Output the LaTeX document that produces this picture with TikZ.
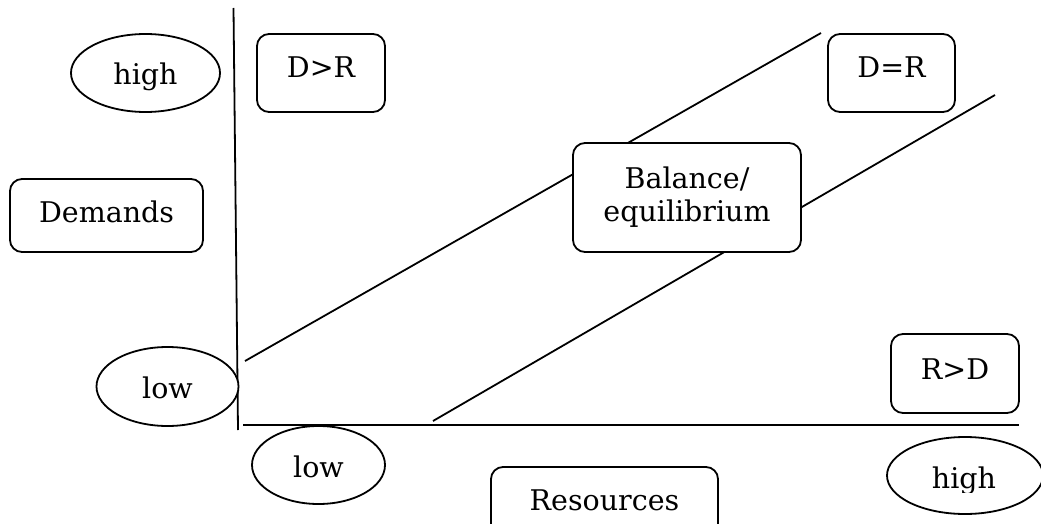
\documentclass[tikz,border=0pt]{standalone}
\usepackage{fontspec}
\setmainfont{DejaVu Serif}
\usetikzlibrary{shapes.geometric}
\begin{document}
\begin{tikzpicture}[x=1pt,y=-1pt,
  line width=1.8pt,
  every node/.style={font=\fontsize{28.5}{33}\selectfont, inner sep=0pt},
  rbox/.style={draw, fill=white, rounded corners=12pt, rectangle},
  oval/.style={draw, fill=white, ellipse},
  lbl/.style={anchor=base},
  axis/.style={line width=1.8pt},
  diag/.style={line width=1.8pt}]
\clip (0,0) rectangle (1041,524);
\useasboundingbox (0,0) rectangle (1041,524);
% axes
\coordinate (ytop) at (233.5,8);
\coordinate (ybot) at (238,430);
\coordinate (xl) at (243,425);
\coordinate (xr) at (1019,425);
\draw[axis] (ytop) -- (ybot);
\draw[axis] (xl) -- (xr);
% diagonals
\coordinate (u1) at (245,361);
\coordinate (u2) at (821,33);
\coordinate (l1) at (433,421);
\coordinate (l2) at (995,95);
\draw[diag] (u1) -- (u2);
\draw[diag] (l1) -- (l2);
% boxes
\node[rbox, minimum width=128pt, minimum height=78pt, text height=21pt, text depth=11pt] (DgR) at (321,73) {D>R};
\node[rbox, minimum width=127pt, minimum height=78pt, text height=21pt, text depth=11pt] (DeR) at (891.5,73) {D=R};
\node[rbox, minimum width=193pt, minimum height=73pt, text height=21pt, text depth=8pt] (dem) at (106.5,215.5) {Demands};
\node[rbox, minimum width=228pt, minimum height=109pt, align=center] (bal) at (687,197.5) {Balance/\\equilibrium};
\node[rbox, minimum width=128pt, minimum height=79pt, text height=21pt, text depth=10pt] (RgD) at (955,373.5) {R>D};
\node[rbox, minimum width=227pt, minimum height=78pt, text height=21pt, text depth=13pt] (res) at (604.5,506) {Resources};
% ovals
\node[oval, minimum width=149pt, minimum height=78pt] (hiY) at (145.5,73) {};
\begin{scope}
  \clip (80,40) rectangle (210,90.5);
  \node[lbl] (hiYt) at (145.5,85) {high};
\end{scope}
\node[oval, minimum width=142pt, minimum height=79pt, text height=24pt, text depth=0pt] (loY) at (167.5,386.5) {low};
\node[oval, minimum width=133pt, minimum height=78pt, text height=24pt, text depth=0pt] (loX) at (318.5,465) {low};
\node[oval, minimum width=156pt, minimum height=77pt] (hiX) at (965,475.5) {};
\begin{scope}
  \clip (900,445) rectangle (1030,492);
  \node[lbl] (hiXt) at (964,488) {high};
\end{scope}
\end{tikzpicture}
\end{document}
